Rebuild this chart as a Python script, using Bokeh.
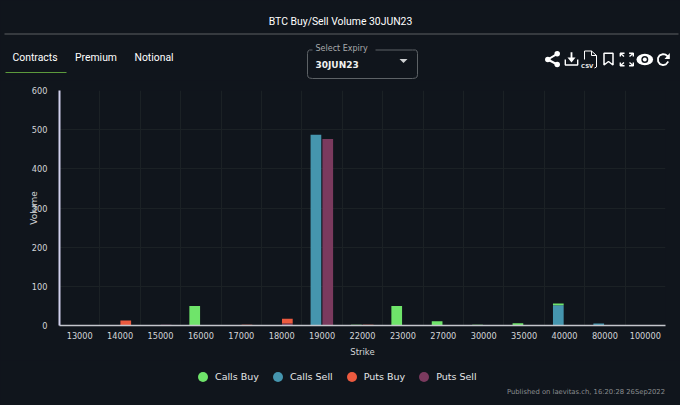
from bokeh.plotting import figure
from bokeh.layouts import column
from bokeh.embed import file_html
from bokeh.resources import INLINE
from bokeh.core.properties import value
from bokeh.models import (ColumnDataSource, Range1d, FixedTicker, Legend,
                          LegendItem, GlobalInlineStyleSheet)

strikes = ["13000", "14000", "15000", "16000", "17000", "18000", "19000", "22000",
           "23000", "27000", "30000", "35000", "40000", "80000", "100000"]
calls_buy = [0, 0, 0, 50, 0, 0, 0, 2, 50, 11, 2, 6, 4, 0, 0]
calls_sell = [0, 0, 0, 0, 0, 0, 487, 0, 0, 0, 0, 0, 52, 5, 0]
puts_buy = [0, 13, 0, 0, 2, 12, 0, 2, 0, 0, 0, 0, 0, 0, 0]
puts_sell = [0, 0, 2, 0, 0, 5, 476, 0, 0, 0, 0, 0, 0, 0, 0]
y_ticks = [0, 100, 200, 300, 400, 500, 600]

BG = "#10151c"
GREEN, TEAL, RED, PLUM = "#6fe46a", "#4595ae", "#ec5a3f", "#7a3a5e"
TICK = "#d4d6d8"
AXFONT = "DejaVu Sans"

centers = [i + 0.5 for i in range(len(strikes))]
source = ColumnDataSource(dict(left=[c - 0.153 for c in centers], right=[c + 0.14 for c in centers],
                               calls_buy=calls_buy, calls_sell=calls_sell,
                               puts_buy=puts_buy, puts_sell=puts_sell))


def strip(height, y0, y1):
    f = figure(width=680, height=height, x_range=Range1d(0, 680), y_range=Range1d(y1, y0),
               output_backend="svg", toolbar_location=None, min_border=0, frame_align=False,
               background_fill_color=BG, border_fill_color=BG, outline_line_color=None,
               x_axis_location=None, y_axis_location=None)
    f.grid.visible = False
    return f


def txt(f, x, y, s, size, color="#f0f0f0", font="Roboto", align="left", style="normal"):
    f.text([x], [y], text=[s], text_font=value(font), text_font_size=size, text_color=color,
           text_align=align, text_baseline="middle", text_font_style=style)


# ---- header (page-pixel coordinates) ----
h = strip(80, 0, 80)
txt(h, 340, 21, "BTC Buy/Sell Volume 30JUN23", "10.4px", "#ffffff", align="center")
h.line([4, 678], [33.5, 33.5], line_color="#5c6163", line_width=1)
txt(h, 12, 57, "Contracts", "10.4px", "#ffffff")
txt(h, 74.5, 57, "Premium", "10.4px", "#ffffff")
txt(h, 134, 57, "Notional", "10.4px", "#ffffff")
h.line([5, 66], [72, 72], line_color="#5c9a3c", line_width=1)

# select box
bx = [312, 309, 307.5, 307, 307, 307.5, 309, 312, 412, 415, 416.5, 417, 417, 416.5, 415, 412, 375]
by = [49.5, 49.5, 50.5, 53, 74, 76.5, 77.5, 78, 78, 77.5, 76.5, 74, 53, 50.5, 49.5, 49.5, 49.5]
h.line(bx, by, line_color="#5d6266", line_width=1)
txt(h, 315, 48, "Select Expiry", "8px", "#a8abad", AXFONT)
txt(h, 315, 64, "30JUN23", "9px", "#f0f0f0", AXFONT, style="bold")
h.patch([399, 407, 403], [58.5, 58.5, 62.5], fill_color="#cfd2d4", line_color=None)

W = "#ffffff"
# share
h.multi_line([[556.7, 547.3, 556.7]], [[53.3, 59, 64]], line_color=W, line_width=2)
h.scatter([556.7, 547.3, 556.7], [53.3, 59, 64], size=5.5, fill_color=W, line_color=None)
# download
h.line([564.8, 564.8, 577.2, 577.2], [59, 64.5, 64.5, 59], line_color=W, line_width=1.4)
h.line([571, 571], [51.7, 60], line_color=W, line_width=1.8)
h.patch([567, 575, 571], [57, 57, 62], fill_color=W, line_color=None)
# csv file
h.line([584, 584, 591, 596, 596, 594], [59, 50.5, 50.5, 55, 66.5, 67.5],
       line_color=W, line_width=1)
h.line([591, 591, 596], [50.5, 55, 55], line_color=W, line_width=1)
txt(h, 580.5, 65.5, "CSV", "5.5px", "#e8e8e8", AXFONT, style="bold")
# bookmark
h.line([603.5, 603.5, 612.5, 612.5, 608, 603.5, 603.5], [64.5, 52.8, 52.8, 64.5, 61, 64.5, 52.8],
       line_color=W, line_width=1.5)
# fullscreen
h.multi_line([[619.8, 619.8, 624], [628.6, 632.8, 632.8], [619.8, 619.8, 624], [628.6, 632.8, 632.8],
              [620, 623.5], [632.6, 629], [620, 623.5], [632.6, 629]],
             [[56, 52.8, 52.8], [52.8, 52.8, 56], [62, 65.2, 65.2], [65.2, 65.2, 62],
              [53, 56], [53, 56], [65, 62], [65, 62]], line_color=W, line_width=1.4)
# eye
h.ellipse([644.3], [59], width=16.6, height=11.5, fill_color=W, line_color=None)
h.scatter([644.3], [59], size=7, fill_color=BG, line_color=None)
h.scatter([644.3], [59], size=4, fill_color=W, line_color=None)
# reload
h.line([667.5, 665.2, 662.5, 659.2, 657.5, 657.6, 659.5, 662.5, 665.5, 667.8],
       [56, 54.2, 53.6, 54.8, 57.5, 61, 63.6, 64.6, 63.8, 61],
       line_color=W, line_width=1.8)
h.patch([669.3, 669.3, 664], [52.5, 58.5, 58.5], fill_color=W, line_color=None)

# ---- chart ----
p = figure(width=680, height=280, x_range=Range1d(0, len(strikes)),
           y_range=Range1d(0, 600), output_backend="svg", toolbar_location=None,
           min_border_top=10, min_border_bottom=35, min_border_left=59, min_border_right=15,
           frame_align=False,
           background_fill_color=BG, border_fill_color=BG, outline_line_color=None,
           x_axis_label="Strike", y_axis_label="Volume")
p.stylesheets = [GlobalInlineStyleSheet(css=f"html,body{{background:{BG};}}")]

p.xaxis.ticker = FixedTicker(ticks=centers)
p.xaxis.major_label_overrides = dict(zip(centers, strikes))
p.xgrid.ticker = FixedTicker(ticks=list(range(len(strikes) + 1)))
p.xgrid.grid_line_color = "#1b2125"
p.ygrid.grid_line_color = "#1b2125"
p.yaxis.ticker = FixedTicker(ticks=y_ticks)

for ax in (p.xaxis[0], p.yaxis[0]):
    ax.major_tick_line_color = None
    ax.minor_tick_line_color = None
    ax.major_label_text_font = AXFONT
    ax.major_label_text_font_size = "8.2px"
    ax.major_label_text_color = TICK
    ax.axis_label_text_font = AXFONT
    ax.axis_label_text_font_size = "8.5px"
    ax.axis_label_text_font_style = "normal"
    ax.axis_label_text_color = TICK
p.yaxis[0].axis_label_text_font_size = "9px"
p.xaxis[0].axis_line_color = "#c4c6cc"
p.xaxis[0].axis_line_width = 1.5
p.xaxis[0].major_label_standoff = 0
p.xaxis[0].axis_label_standoff = 5
p.yaxis[0].axis_line_color = "#d0d0ec"
p.yaxis[0].axis_line_width = 2
p.yaxis[0].major_label_standoff = 6
p.yaxis[0].axis_label_standoff = -10

p.vbar_stack(["calls_sell", "calls_buy"], x="left", width=0.265,
             source=source, fill_color=[TEAL, GREEN], line_color=None)
p.vbar_stack(["puts_sell", "puts_buy"], x="right", width=0.265,
             source=source, fill_color=[PLUM, RED], line_color=None)

# ---- legend and footer ----
f = strip(45, 360, 405)
nowhere = ColumnDataSource(dict(x=[float("nan")], v=[float("nan")]))
items = []
for name, col in [("Calls Buy", GREEN), ("Calls Sell", TEAL), ("Puts Buy", RED), ("Puts Sell", PLUM)]:
    r = f.scatter("x", "v", source=nowhere, size=10, fill_color=col, line_color=None)
    items.append(LegendItem(label=name, renderers=[r]))
legend = Legend(items=items, orientation="horizontal", location=(190, 16), padding=0, margin=0,
                glyph_width=25, glyph_height=25, label_standoff=-2, spacing=6,
                background_fill_alpha=0, border_line_color=None,
                label_text_font=AXFONT, label_text_font_size="9.5px", label_text_color="#e4e6e8")
f.add_layout(legend)
txt(f, 664.5, 391, "Published on laevitas.ch, 16:20:28 26Sep2022", "6.8px", "#8a8d90", AXFONT, align="right")

page = column(h, p, f, spacing=0)
open("out.html", "w").write(file_html(page, INLINE))
